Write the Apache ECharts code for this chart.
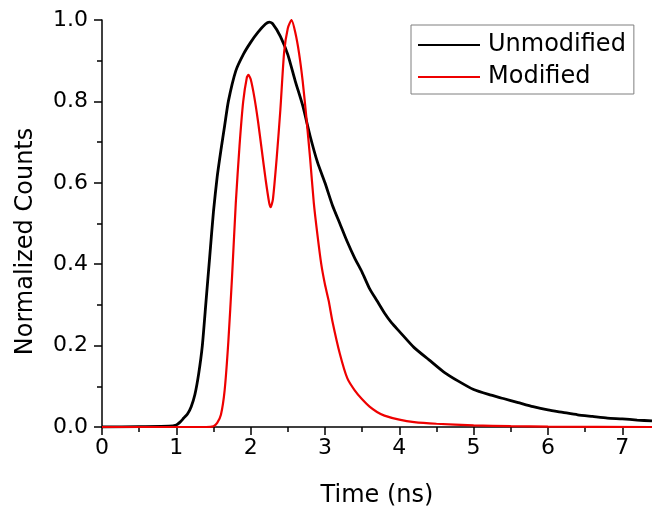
<!DOCTYPE html>
<html>
<head>
<meta charset="utf-8">
<script src="https://cdn.jsdelivr.net/npm/echarts@6/dist/echarts.min.js"></script>
<style>
html,body{margin:0;padding:0;background:#fff;}
#chart{width:652px;height:510px;}
</style>
</head>
<body>
<div id="chart"></div>
<script>
// ---- data ----
var unmodTime = [0, 0.5, 0.9, 1.0, 1.05, 1.1, 1.15, 1.2, 1.25, 1.3, 1.35, 1.4, 1.45, 1.5, 1.55, 1.6, 1.65, 1.7, 1.8, 1.9, 2.0, 2.1, 2.2, 2.25, 2.3, 2.4, 2.5, 2.6, 2.7, 2.8, 2.9, 3.0, 3.1, 3.2, 3.3, 3.4, 3.5, 3.6, 3.7, 3.8, 3.9, 4.0, 4.2, 4.4, 4.6, 4.8, 5.0, 5.2, 5.4, 5.6, 5.8, 6.0, 6.2, 6.4, 6.6, 6.8, 7.0, 7.2, 7.4];
var unmodCounts = [0, 0.001, 0.002, 0.005, 0.012, 0.022, 0.032, 0.05, 0.08, 0.13, 0.2, 0.31, 0.42, 0.53, 0.615, 0.68, 0.74, 0.8, 0.875, 0.915, 0.945, 0.97, 0.99, 0.995, 0.99, 0.96, 0.915, 0.85, 0.79, 0.715, 0.65, 0.6, 0.545, 0.5, 0.455, 0.415, 0.38, 0.34, 0.31, 0.28, 0.255, 0.235, 0.195, 0.165, 0.135, 0.112, 0.092, 0.08, 0.07, 0.06, 0.05, 0.042, 0.036, 0.03, 0.026, 0.022, 0.02, 0.017, 0.015];
var modTime = [0, 1.4, 1.5, 1.55, 1.6, 1.65, 1.7, 1.75, 1.8, 1.85, 1.9, 1.95, 1.97, 2.0, 2.05, 2.1, 2.15, 2.2, 2.25, 2.27, 2.3, 2.35, 2.4, 2.45, 2.5, 2.55, 2.6, 2.65, 2.7, 2.75, 2.8, 2.85, 2.9, 2.95, 3.0, 3.05, 3.1, 3.2, 3.3, 3.4, 3.5, 3.6, 3.7, 3.8, 4.0, 4.2, 4.5, 5.0, 5.5, 6.0, 7.4];
var modCounts = [0, 0, 0.002, 0.01, 0.03, 0.09, 0.21, 0.37, 0.55, 0.69, 0.8, 0.86, 0.865, 0.855, 0.81, 0.75, 0.68, 0.61, 0.55, 0.54, 0.56, 0.66, 0.78, 0.92, 0.98, 1.0, 0.97, 0.92, 0.85, 0.76, 0.66, 0.55, 0.47, 0.4, 0.35, 0.31, 0.26, 0.18, 0.12, 0.09, 0.068, 0.05, 0.037, 0.028, 0.018, 0.012, 0.008, 0.004, 0.002, 0.001, 0];
var xMajorTicks = [0, 1, 2, 3, 4, 5, 6, 7];
var xMinorTicks = [0.5, 1.5, 2.5, 3.5, 4.5, 5.5, 6.5];
var seriesNames = ['Unmodified', 'Modified'];
var xName = 'Time (ns)';
var yName = 'Normalized Counts';

function pairs(t, v) { return t.map(function (x, i) { return [x, v[i]]; }); }

var FONT = 'DejaVu Sans';
var chart = echarts.init(document.getElementById('chart'), null, {renderer: 'canvas'});
chart.setOption({
  animation: false,
  backgroundColor: '#fff',
  textStyle: {fontFamily: FONT},
  grid: {left: 102, right: 0, top: 20, bottom: 83, containLabel: false, outerBoundsMode: 'none'},
  legend: {
    orient: 'vertical',
    left: 411, top: 25,
    padding: [8, 8, 5, 7],
    icon: 'rect',
    itemWidth: 62, itemHeight: 2, itemGap: 8,
    borderColor: '#7f7f7f', borderWidth: 1, borderRadius: 0,
    backgroundColor: '#fff',
    textStyle: {fontFamily: FONT, fontSize: 24, color: '#000', padding: [0, 0, 0, 3]},
    data: seriesNames
  },
  xAxis: [{
    type: 'value', min: 0, max: 7.4, position: 'bottom',
    name: xName, nameLocation: 'middle', nameGap: 57,
    nameTextStyle: {fontFamily: FONT, fontSize: 24, color: '#000'},
    axisLine: {show: true, onZero: false, lineStyle: {color: '#000', width: 1.5}},
    axisTick: {show: true, length: 8, lineStyle: {color: '#000', width: 1.5}, customValues: xMajorTicks},
    axisLabel: {fontFamily: FONT, fontSize: 22, color: '#000', margin: 10, customValues: xMajorTicks},
    splitLine: {show: false}
  }, {
    type: 'value', min: 0, max: 7.4, position: 'bottom', gridIndex: 0,
    axisLine: {show: false},
    axisTick: {show: true, length: 5, lineStyle: {color: '#000', width: 1.5}, customValues: xMinorTicks},
    axisLabel: {show: false},
    splitLine: {show: false}
  }],
  yAxis: {
    type: 'value', min: 0, max: 1, interval: 0.2,
    name: yName, nameLocation: 'middle', nameGap: 64, nameRotate: 90,
    nameTextStyle: {fontFamily: FONT, fontSize: 24, color: '#000', padding: [0, 36, 0, 0]},
    axisLine: {show: true, lineStyle: {color: '#000', width: 1.5}},
    axisTick: {show: true, length: 8, lineStyle: {color: '#000', width: 1.5}},
    minorTick: {show: true, splitNumber: 2, length: 5, lineStyle: {color: '#000', width: 1.5}},
    axisLabel: {fontFamily: FONT, fontSize: 22, color: '#000', margin: 14,
      formatter: function (v) { return v.toFixed(1); }},
    splitLine: {show: false}
  },
  series: [{
    name: seriesNames[0], type: 'line', showSymbol: false, symbol: 'none',
    smooth: 0.2,
    lineStyle: {color: '#000', width: 2.8}, itemStyle: {color: '#000'},
    data: pairs(unmodTime, unmodCounts), z: 2
  }, {
    name: seriesNames[1], type: 'line', showSymbol: false, symbol: 'none',
    smooth: 0.2,
    lineStyle: {color: '#ee0000', width: 2.2}, itemStyle: {color: '#ee0000'},
    data: pairs(modTime, modCounts), z: 3
  }]
});
</script>
</body>
</html>
